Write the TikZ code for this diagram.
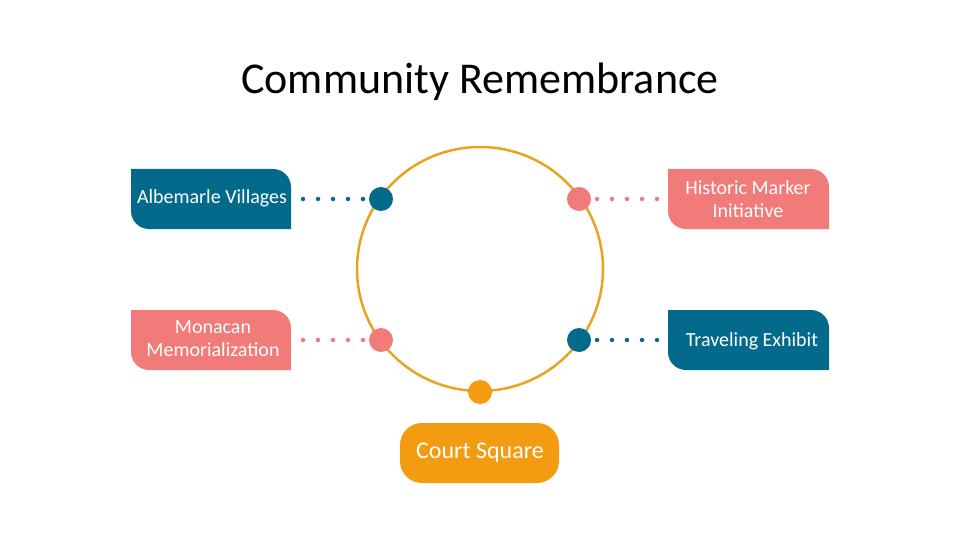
\documentclass[tikz,border=0pt]{standalone}
\usepackage{fontspec}
\setmainfont{Carlito}
\definecolor{cblue}{HTML}{036A8C}
\definecolor{ccoral}{HTML}{F07B78}
\definecolor{corange}{HTML}{F39C12}
\definecolor{cring}{HTML}{E8A321}
\begin{document}
\begin{tikzpicture}[x=1pt,y=-1pt,
  lbl/.style={text=white,font=\fontsize{20}{23}\selectfont,align=center},
  dotc/.style={circle,minimum size=24pt,inner sep=0pt},
  dots/.style={line width=4.5pt,line cap=round,dash pattern=on 0pt off 15pt}]
\useasboundingbox (0,0) rectangle (960,540);
\node[font=\fontsize{44}{48}\selectfont] (title) at (480,82) {Community Remembrance};
\draw[cring,line width=2.5pt] (480,269) ellipse [x radius=123, y radius=122];
% boxes
\newcommand{\mybox}[5]{%
 \fill[#5] (#1,#2) [rounded corners=0] -- (#3-18,#2) [rounded corners=18] -- (#3,#2) [rounded corners=0] -- (#3,#4) -- (#1+18,#4) [rounded corners=18] -- (#1,#4) [rounded corners=0] -- (#1,#2) -- cycle;}
\mybox{131}{169}{291}{229}{cblue}
\mybox{131}{310}{291}{370}{ccoral}
\mybox{668}{169}{829}{229}{ccoral}
\mybox{668}{310}{829}{370}{cblue}
\node[lbl] (av) at (212,198) {Albemarle Villages};
\node[lbl] (mm) at (213,339) {Monacan\\Memorialization};
\node[lbl] (hm) at (748,199) {Historic Marker\\Initiative};
\node[lbl] (te) at (752,341) {Traveling Exhibit};
\fill[corange,rounded corners=22] (400,423) rectangle (559,483);
\node[lbl,font=\fontsize{24}{28}\selectfont] (cs) at (480,453) {Court Square};
% dots on ring
\node[dotc,fill=cblue] (d1) at (381,199) {};
\node[dotc,fill=ccoral] (d2) at (381,340) {};
\node[dotc,fill=ccoral] (d3) at (579,199) {};
\node[dotc,fill=cblue] (d4) at (579,340) {};
\node[dotc,fill=corange] (d5) at (480,392) {};
\coordinate (a1) at (303,199);
\coordinate (a2) at (303,340);
\coordinate (a3) at (657,199);
\coordinate (a4) at (657,340);
\draw[dots,cblue] (a1) -- (d1.west);
\draw[dots,ccoral] (a2) -- (d2.west);
\draw[dots,ccoral] (a3) -- (d3.east);
\draw[dots,cblue] (a4) -- (d4.east);
\end{tikzpicture}
\end{document}
